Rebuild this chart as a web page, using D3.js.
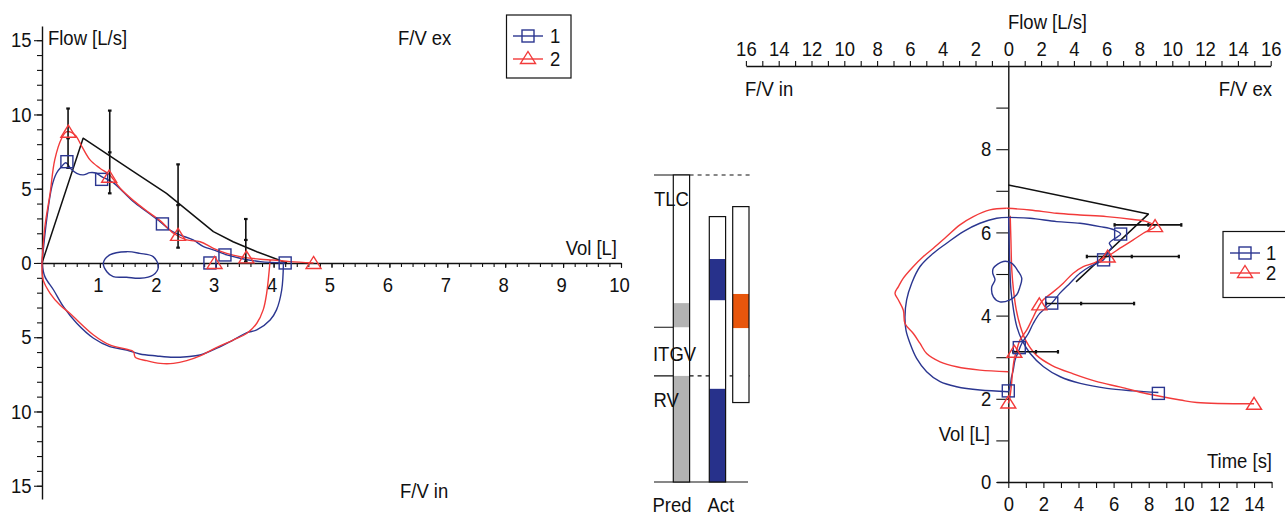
<!DOCTYPE html>
<html><head><meta charset="utf-8">
<script src="https://cdn.jsdelivr.net/npm/d3@7"></script>
<style>
body{margin:0;background:#fff}
svg{display:block}
text{font-family:"Liberation Sans",Arial,sans-serif;font-size:21px;fill:#111}
.tick text{font-size:21px}
</style></head><body><svg id="c" width="1285" height="513"></svg>
<script>
// ---------------- DATA ----------------
// Left panel: flow-volume (x = expired volume [L], y = flow [L/s], inspiration negative)
const leftBlueExp = [[0,0],[0.08,2.9],[0.17,5.14],[0.25,6.04],[0.34,6.5],[0.41,6.75],[0.51,6.3],[0.6,6.04],[0.71,5.93],[0.83,6.08],[0.94,6.04],[1.03,5.81],[1.12,5.64],[1.23,5.41],[1.4,4.8],[1.58,4.13],[1.81,3.45],[2.04,2.78],[2.21,2.22],[2.38,1.89],[2.61,1.55],[2.79,1.1],[2.96,0.88],[3.19,0.54],[3.42,0.32],[3.77,0.09],[4.2,0]];
const leftBlueInsp = [[4.17,0],[4.14,-1.82],[4.05,-3.16],[3.94,-3.84],[3.71,-4.51],[3.54,-4.69],[3.3,-5.19],[3.02,-5.74],[2.73,-6.2],[2.5,-6.31],[2.27,-6.35],[1.98,-6.26],[1.69,-6.13],[1.46,-5.86],[1.17,-5.63],[0.89,-5.07],[0.6,-4.06],[0.37,-2.94],[0.2,-1.82],[0.05,-0.92],[0,0]];
const leftBlueTidal = [[1.06,0],[1.17,0.54],[1.46,0.76],[1.69,0.65],[1.92,0.43],[2.01,-0.25],[1.92,-0.81],[1.69,-1.03],[1.46,-0.96],[1.23,-0.92],[1.12,-0.59]];
const leftRedExp = [[0,0],[0.05,2.44],[0.14,4.69],[0.22,6.94],[0.34,8.4],[0.43,8.84],[0.57,8.62],[0.69,7.83],[0.83,6.94],[1.0,6.38],[1.17,5.93],[1.35,5.03],[1.58,4.2],[1.81,3.5],[2.04,2.85],[2.27,2.0],[2.5,1.55],[2.73,1.43],[2.96,0.99],[3.19,0.65],[3.42,0.43],[3.77,0.25],[3.99,0.2],[4.28,0.09],[4.69,0]];
const leftRedInsp = [[3.94,0.2],[3.88,-2.04],[3.82,-3.16],[3.71,-4.06],[3.54,-4.73],[3.3,-5.19],[3.02,-5.68],[2.73,-6.26],[2.5,-6.58],[2.27,-6.76],[2.04,-6.76],[1.81,-6.58],[1.61,-6.35],[1.58,-5.97],[1.46,-5.81],[1.17,-5.52],[0.89,-4.85],[0.48,-3.39],[0.31,-2.83],[0.14,-2.04],[0.02,-1.14],[0,0]];
const leftPred = [[0,0],[0.71,8.4],[1.58,6.15],[2.15,4.69],[2.96,2.11],[3.3,1.43],[3.71,0.76],[4.23,0]];
const leftBlueMarkers = [[0.43,6.82],[1.03,5.63],[2.08,2.63],[2.9,0],[3.16,0.54],[4.2,0]];
const leftRedMarkers = [[0.455,8.84],[1.16,5.81],[2.35,1.89],[2.98,0],[3.53,0.38],[4.69,0]];
// [volume, low, mid, high]
const leftErrBars = [[0.45,6.4,8.4,10.4],[1.17,4.69,7.45,10.26],[2.35,1.03,3.9,6.64],[3.52,0.1,1.55,2.96]];

// Right panel: flow (x, top axis) vs absolute volume (y); volume-time (x, bottom axis)
const rightBlueInsp = [[0,2.17],[-1.73,2.21],[-3.15,2.29],[-4.16,2.41],[-4.98,2.65],[-5.59,2.97],[-5.99,3.33],[-6.24,3.65],[-6.3,3.97],[-6.2,4.38],[-5.89,4.78],[-5.38,5.18],[-4.57,5.5],[-3.76,5.74],[-2.74,6.02],[-1.73,6.22],[-0.71,6.34],[0,6.36]];
const rightBlueExp = [[0,6.36],[1.32,6.34],[2.95,6.26],[4.37,6.22],[5.59,6.14],[6.4,6.07],[6.85,5.96],[6.4,5.83],[6.16,5.74],[6.3,5.64],[6.1,5.54],[5.81,5.34],[4.98,5.18],[4.37,5.02],[3.76,4.78],[3.15,4.54],[2.65,4.3],[1.93,4.06],[1.52,3.81],[1.22,3.57],[0.82,3.33],[0.61,3.13],[0.41,2.93],[0.3,2.69],[0.2,2.53],[0.1,2.29],[0,2.17]];
const rightBlueTidal = [[-0.91,5.14],[-0.3,5.3],[0.2,5.26],[0.61,5.06],[0.82,4.9],[0.71,4.69],[0.51,4.5],[0.1,4.38],[-0.51,4.33],[-0.91,4.45],[-1.01,4.69],[-0.81,4.86],[-0.95,5.02]];
const rightRedInsp = [[0,2.65],[-1.73,2.69],[-3.15,2.77],[-4.16,2.89],[-4.98,3.09],[-5.38,3.33],[-5.79,3.57],[-6.3,3.81],[-6.4,4.13],[-6.71,4.38],[-6.91,4.54],[-6.71,4.69],[-6.4,4.9],[-5.79,5.18],[-5.18,5.42],[-4.57,5.62],[-3.76,5.9],[-2.95,6.18],[-2.13,6.38],[-1.12,6.54],[-0.1,6.58]];
const rightRedExp = [[-0.1,6.58],[1.32,6.54],[2.95,6.46],[4.37,6.42],[6.0,6.38],[7.62,6.31],[8.44,6.26],[8.95,6.15],[8.23,5.98],[7.62,5.82],[6.81,5.62],[6.2,5.46],[5.59,5.34],[5.2,5.26],[4.57,5.18],[3.96,5.02],[3.35,4.78],[2.74,4.57],[2.13,4.38],[1.73,4.13],[1.43,3.89],[1.12,3.65],[0.71,3.41],[0.51,3.17],[0.35,2.93],[0.25,2.6],[0.2,2.37],[0.1,2.05],[0,1.89]];
const rightPred = [[0,7.14],[8.54,6.44],[4.13,4.81]];
const rightBlueMarkers = [[0,2.19],[0.67,3.23],[2.65,4.3],[5.81,5.34],[6.85,5.96]];
const rightRedMarkers = [[0,1.91],[0.37,3.13],[1.89,4.27],[6.06,5.42],[8.95,6.15]];
// [volume, low flow, mid flow, high flow]
const rightErrBars = [[6.18,6.48,8.54,10.55],[5.42,4.79,7.53,10.4],[4.29,2.3,4.44,7.67],[3.13,0.3,1.69,3.03]];
const blueVolTime = [[0.02,6.36],[0.07,5.42],[0.15,4.62],[0.3,4.13],[0.49,3.73],[0.78,3.41],[1.25,3.09],[2.01,2.77],[2.96,2.53],[4.1,2.37],[5.62,2.25],[7.13,2.19],[8.55,2.15]];
const redVolTime = [[0.11,6.4],[0.15,5.82],[0.2,5.1],[0.3,4.6],[0.45,4.15],[0.68,3.75],[1.0,3.4],[1.6,3.05],[2.5,2.8],[3.7,2.6],[5.0,2.42],[6.4,2.28],[7.9,2.12],[9.8,1.97],[10.74,1.91],[14.0,1.88]];
const blueTimeMarkers = [[8.55,2.13]];
const redTimeMarkers = [[14.0,1.88]];

// Middle: lung volume bars (volume [L])
const volBarNames = ["Pred","Act","Act2"];
const volBarTop = [7.38, 6.38, 6.62];
const volBarBottom = [0, 0, 1.91];
const volBarFills = [[[3.72,4.3],[0,2.55]], [[4.37,5.36],[0,2.24]], [[3.7,4.52]]];
const volBarColors = ["#b3b3b3","#27318b","#e8560c"];
const refLineNames = ["TLC","ITGV","RV"];
const refLineValues = [7.38, 3.72, 2.55];
const refLineDashed = [true, false, true];

const seriesNames = ["1","2"];
const seriesColors = ["#2b3690","#f23a3a"];

// ---------------- DRAW ----------------
const svg = d3.select("#c");
const BLUE = seriesColors[0], RED = seriesColors[1];

// Left scales
const xL = d3.scaleLinear().domain([0,10]).range([42,621]);
const yL = d3.scaleLinear().domain([-15.9,15.95]).range([499.1,26.1]);
// Right scales
const fx = d3.scaleLinear().domain([-16,16]).range([745.9,1270.7]);
const vy = d3.scaleLinear().domain([0,10]).range([482,66]);
const tx = d3.scaleLinear().domain([-0.66,15]).range([996.7,1271.6]);

function styleAxis(g){
  g.selectAll("path.domain").attr("stroke","#111").attr("stroke-width",1.4);
  g.selectAll(".tick line").attr("stroke","#111").attr("stroke-width",1.1);
  g.selectAll(".tick text").attr("fill","#111").style("font-family",null);
}

// ---- Left axes ----
const gLy = svg.append("g").attr("transform",`translate(${xL(0)},0)`);
gLy.call(d3.axisLeft(yL).tickValues(d3.range(-15,16,1)).tickSize(5).tickSizeOuter(0).tickFormat(""));
const gLy2 = svg.append("g").attr("transform",`translate(${xL(0)},0)`);
gLy2.call(d3.axisLeft(yL).tickValues([-15,-10,-5,0,5,10,15]).tickSize(8).tickPadding(2.5).tickFormat(d=>Math.abs(d)));
gLy2.select(".domain").remove();
styleAxis(gLy); styleAxis(gLy2);

const gLx = svg.append("g").attr("transform",`translate(0,${yL(0)})`);
gLx.call(d3.axisBottom(xL).tickValues(d3.range(0,50.5,1).map(i=>i/5)).tickSize(4).tickSizeOuter(0).tickFormat(""));
const gLx2 = svg.append("g").attr("transform",`translate(0,${yL(0)})`);
gLx2.call(d3.axisBottom(xL).tickValues(d3.range(1,11)).tickSize(5).tickFormat(d=>d));
gLx2.select(".domain").remove();
gLx2.selectAll(".tick text").attr("x",-2).attr("y",29).attr("dy",0);
styleAxis(gLx); styleAxis(gLx2);

// Left labels
svg.append("text").attr("x",48).attr("y",45).text("Flow [L/s]");
svg.append("text").attr("x",398).attr("y",45).text("F/V ex");
svg.append("text").attr("x",400).attr("y",498).text("F/V in");
svg.append("text").attr("x",617).attr("y",255).attr("text-anchor","end").text("Vol [L]");

// Left curves
const lineL = d3.line().x(d=>xL(d[0])).y(d=>yL(d[1])).curve(d3.curveCatmullRom.alpha(0.5));
const lineLlin = d3.line().x(d=>xL(d[0])).y(d=>yL(d[1]));
const drawPath = (data, gen, color, w) => svg.append("path").datum(data).attr("d",gen).attr("fill","none").attr("stroke",color).attr("stroke-width",w).attr("stroke-linejoin","round");

drawPath(leftPred, lineLlin, "#111", 1.5);
drawPath(leftBlueInsp, lineL, BLUE, 1.4);
drawPath(leftRedInsp, lineL, RED, 1.4);
drawPath(leftBlueExp, lineL, BLUE, 1.4);
drawPath(leftRedExp, lineL, RED, 1.4);
svg.append("path").datum(leftBlueTidal).attr("d", d3.line().x(d=>xL(d[0])).y(d=>yL(d[1])).curve(d3.curveCatmullRomClosed)).attr("fill","none").attr("stroke",BLUE).attr("stroke-width",1.4);

// Left error bars (vertical)
const eL = svg.append("g").attr("stroke","#111").attr("stroke-width",1.6);
leftErrBars.forEach(b=>{
  const x = xL(b[0]);
  eL.append("line").attr("x1",x).attr("x2",x).attr("y1",yL(b[1])).attr("y2",yL(b[3]));
  [b[1],b[2],b[3]].forEach(v=>eL.append("line").attr("x1",x-1.8).attr("x2",x+1.8).attr("y1",yL(v)).attr("y2",yL(v)).attr("stroke-width",2.2));
});

// markers
function square(g, x, y, color){
  g.append("rect").attr("x",x-6).attr("y",y-6).attr("width",12).attr("height",12).attr("fill","none").attr("stroke",color).attr("stroke-width",1.4);
}
function triangle(g, x, y, color){
  g.append("path").attr("d",`M${x},${y-6.5}L${x+7.5},${y+5.5}L${x-7.5},${y+5.5}Z`).attr("fill","none").attr("stroke",color).attr("stroke-width",1.4);
}
const mL = svg.append("g");
leftBlueMarkers.forEach(d=>square(mL,xL(d[0]),yL(d[1]),BLUE));
leftRedMarkers.forEach(d=>triangle(mL,xL(d[0]),yL(d[1]),RED));

// Left legend
const lg = svg.append("g");
lg.append("rect").attr("x",506.5).attr("y",15).attr("width",64.5).attr("height",63).attr("fill","#fff").attr("stroke","#111").attr("stroke-width",1.2);
[36,59].forEach((y,i)=>{
  lg.append("line").attr("x1",513).attr("x2",543).attr("y1",y).attr("y2",y).attr("stroke",seriesColors[i]).attr("stroke-width",1.4);
  if(i===0) square(lg,528,y,BLUE); else triangle(lg,528,y-1,RED);
  lg.append("text").attr("x",550).attr("y",y+7.5).text(seriesNames[i]);
});

// ---- Middle bars ----
const bx = d3.scaleOrdinal().domain(volBarNames).range([673.3,709.3,732.7]);
const bw = 16.3;
const mb = svg.append("g");
refLineNames.forEach((n,i)=>{
  const y = vy(refLineValues[i]);
  mb.append("line").attr("x1",654).attr("x2",bx("Pred")+bw).attr("y1",y).attr("y2",y).attr("stroke","#111").attr("stroke-width",1.2);
  if(refLineDashed[i]) mb.append("line").attr("x1",bx("Pred")+bw).attr("x2",750).attr("y1",y).attr("y2",y).attr("stroke","#111").attr("stroke-width",1.2).attr("stroke-dasharray","4,4");
});
mb.append("line").attr("x1",654).attr("x2",748).attr("y1",vy(0)).attr("y2",vy(0)).attr("stroke","#111").attr("stroke-width",1.2);
volBarNames.forEach((n,i)=>{
  const x = bx(n);
  mb.append("rect").attr("x",x).attr("y",vy(volBarTop[i])).attr("width",bw).attr("height",vy(volBarBottom[i])-vy(volBarTop[i])).attr("fill","#fff");
  volBarFills[i].forEach(f=>{
    mb.append("rect").attr("x",x).attr("y",vy(f[1])).attr("width",bw).attr("height",vy(f[0])-vy(f[1])).attr("fill",volBarColors[i]);
  });
  mb.append("rect").attr("x",x).attr("y",vy(volBarTop[i])).attr("width",bw).attr("height",vy(volBarBottom[i])-vy(volBarTop[i])).attr("fill","none").attr("stroke","#111").attr("stroke-width",1.2);
});
mb.append("text").attr("x",654).attr("y",206.5).text("TLC");
mb.append("text").attr("x",653).attr("y",361.5).text("ITGV");
mb.append("text").attr("x",653.5).attr("y",407).text("RV");
mb.append("text").attr("x",652.5).attr("y",512.5).text("Pred");
mb.append("text").attr("x",707.5).attr("y",512.5).text("Act");

// ---- Right axes ----
const gTop = svg.append("g").attr("transform",`translate(0,${vy(10)})`);
gTop.call(d3.axisTop(fx).tickValues(d3.range(-16,17,1)).tickSize(5).tickSizeOuter(0).tickPadding(5).tickFormat(d=>d%2===0?Math.abs(d):""));
styleAxis(gTop);

const gV = svg.append("g").attr("transform",`translate(${fx(0)},0)`);
gV.call(d3.axisLeft(vy).tickValues(d3.range(0,10,1)).tickSize(12).tickSizeOuter(0).tickPadding(5).tickFormat(d=>d%2===0?d:""));
styleAxis(gV);

const gT = svg.append("g").attr("transform",`translate(0,${vy(0)})`);
gT.call(d3.axisBottom(tx).tickValues(d3.range(0,16,1)).tickSize(6).tickSizeOuter(0).tickFormat(d=>d%2===0?d:""));
gT.selectAll(".tick text").attr("y",29.5).attr("dy",0);
styleAxis(gT);

svg.append("text").attr("x",1008).attr("y",29).text("Flow [L/s]");
svg.append("text").attr("x",745).attr("y",96).text("F/V in");
svg.append("text").attr("x",1272).attr("y",96).attr("text-anchor","end").text("F/V ex");
svg.append("text").attr("x",990).attr("y",441.5).attr("text-anchor","end").text("Vol [L]");
svg.append("text").attr("x",1272).attr("y",468).attr("text-anchor","end").text("Time [s]");

// Right curves
const lineR = d3.line().x(d=>fx(d[0])).y(d=>vy(d[1])).curve(d3.curveCatmullRom.alpha(0.5));
const lineRlin = d3.line().x(d=>fx(d[0])).y(d=>vy(d[1]));
const lineT = d3.line().x(d=>tx(d[0])).y(d=>vy(d[1])).curve(d3.curveCatmullRom.alpha(0.5));

drawPath(rightPred, lineRlin, "#111", 1.5);
drawPath(blueVolTime, lineT, BLUE, 1.4);
drawPath(redVolTime, lineT, RED, 1.4);
drawPath(rightBlueInsp, lineR, BLUE, 1.4);
drawPath(rightRedInsp, lineR, RED, 1.4);
drawPath(rightBlueExp, lineR, BLUE, 1.4);
drawPath(rightRedExp, lineR, RED, 1.4);
svg.append("path").datum(rightBlueTidal).attr("d", d3.line().x(d=>fx(d[0])).y(d=>vy(d[1])).curve(d3.curveCatmullRomClosed)).attr("fill","none").attr("stroke",BLUE).attr("stroke-width",1.4);

// Right error bars (horizontal)
const eR = svg.append("g").attr("stroke","#111").attr("stroke-width",1.6);
rightErrBars.forEach(b=>{
  const y = vy(b[0]);
  eR.append("line").attr("x1",fx(b[1])).attr("x2",fx(b[3])).attr("y1",y).attr("y2",y);
  [b[1],b[2],b[3]].forEach(v=>eR.append("line").attr("x1",fx(v)).attr("x2",fx(v)).attr("y1",y-1.8).attr("y2",y+1.8).attr("stroke-width",2.2));
});

const mR = svg.append("g");
rightBlueMarkers.forEach(d=>square(mR,fx(d[0]),vy(d[1]),BLUE));
rightRedMarkers.forEach(d=>triangle(mR,fx(d[0]),vy(d[1]),RED));
blueTimeMarkers.forEach(d=>square(mR,tx(d[0]),vy(d[1]),BLUE));
redTimeMarkers.forEach(d=>triangle(mR,tx(d[0]),vy(d[1]),RED));

// Right legend
const rg = svg.append("g");
rg.append("rect").attr("x",1223).attr("y",231.5).attr("width",70).attr("height",66).attr("fill","#fff").attr("stroke","#111").attr("stroke-width",1.2);
[253,273].forEach((y,i)=>{
  rg.append("line").attr("x1",1230).attr("x2",1260).attr("y1",y).attr("y2",y).attr("stroke",seriesColors[i]).attr("stroke-width",1.4);
  if(i===0) square(rg,1245,y,BLUE); else triangle(rg,1245,y-1,RED);
  rg.append("text").attr("x",1266).attr("y",y+7.5).text(seriesNames[i]);
});

// condensed lettering: squeeze every text horizontally around its anchor point
svg.selectAll("text").each(function(){
  const x = +this.getAttribute("x") || 0, y = +this.getAttribute("y") || 0;
  this.setAttribute("transform", `translate(${x},${y}) scale(0.88,1) translate(${-x},${-y})`);
});
</script></body></html>
